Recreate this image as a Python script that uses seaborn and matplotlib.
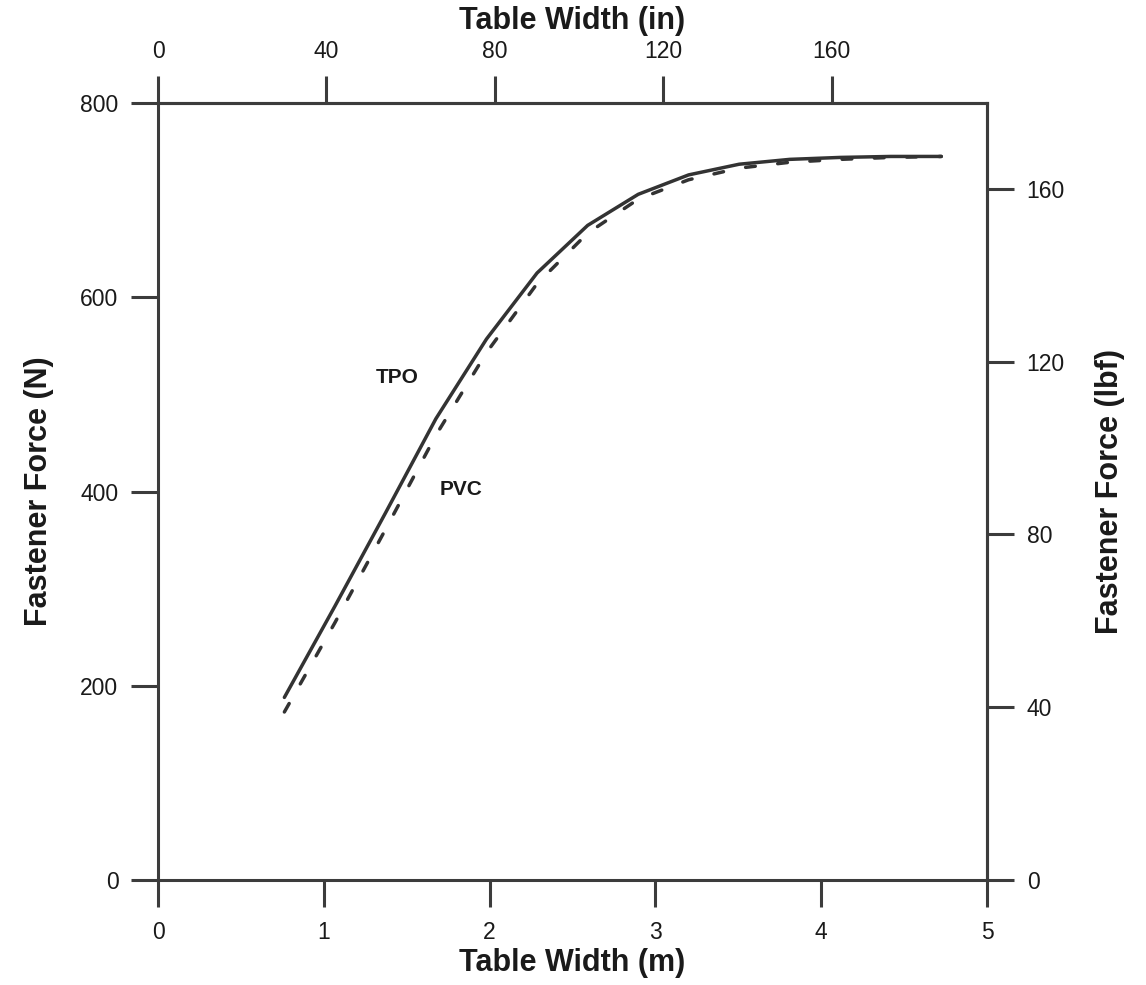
import numpy as np
import pandas as pd
import matplotlib
matplotlib.use("Agg")
import matplotlib.pyplot as plt
import seaborn as sns

# Table width (m) at each computed point
width_m = [0.762, 1.067, 1.372, 1.676, 1.981, 2.286, 2.591, 2.896, 3.200,
           3.505, 3.810, 4.115, 4.420, 4.724]
# Fastener force (N) for each membrane
force_tpo = [188, 282, 378, 475, 557, 625, 674, 706, 726, 737, 742, 744, 745, 745]
force_pvc = [173, 265, 361, 458, 543, 614, 666, 701, 721, 733, 739, 742, 744, 745]

materials = ["TPO", "PVC"]
x_ticks_m = [0, 1, 2, 3, 4, 5]
y_ticks_n = [0, 200, 400, 600, 800]
x_ticks_in = [0, 40, 80, 120, 160]
y_ticks_lbf = [0, 40, 80, 120, 160]

M_PER_IN = 0.0254
N_PER_LBF = 4.448222

df = pd.DataFrame({
    "width": width_m * 2,
    "force": force_tpo + force_pvc,
    "material": ["TPO"] * len(width_m) + ["PVC"] * len(width_m),
})

sns.set_theme(style="ticks")
plt.rcParams["font.family"] = ["Liberation Sans", "DejaVu Sans"]

ink = "#333333"
spine_col = "#3c3c3c"
text_col = "#1a1a1a"
tick_len = 19.5
tick_w = 2.2
tick_fs = 16.5
label_fs = 22

fig = plt.figure(figsize=(11.46, 9.85), dpi=100)
ax = fig.add_axes([0.1379, 0.1066, 0.8613 - 0.1379, 0.8954 - 0.1066])

sns.lineplot(data=df, x="width", y="force", style="material",
             style_order=materials, dashes={"TPO": "", "PVC": (2.8, 6.5)},
             color=ink, linewidth=2.5, legend=False, ax=ax,
             dash_capstyle="round", solid_capstyle="round",
             solid_joinstyle="round")

ax.set_xlim(0, 5)
ax.set_ylim(0, 800)
ax.set_xticks(x_ticks_m)
ax.set_yticks(y_ticks_n)
ax.set_xticklabels([str(v) for v in x_ticks_m])
ax.set_yticklabels([str(v) for v in y_ticks_n])

for s in ax.spines.values():
    s.set_visible(True)
    s.set_linewidth(tick_w)
    s.set_color(spine_col)

ax.tick_params(axis="x", direction="out", length=tick_len, width=tick_w,
               color=spine_col, labelsize=tick_fs, pad=10, labelcolor=text_col)
ax.tick_params(axis="y", direction="out", length=tick_len, width=tick_w,
               color=spine_col, labelsize=tick_fs, pad=9, labelcolor=text_col)

ax.set_xlabel("Table Width (m)", fontsize=label_fs, fontweight="bold",
              labelpad=3, color=text_col)
ax.set_ylabel("Fastener Force (N)", fontsize=label_fs, fontweight="bold",
              labelpad=19, color=text_col)

# Inch scale along the top
top = ax.secondary_xaxis("top", functions=(lambda m: m / M_PER_IN,
                                           lambda i: i * M_PER_IN))
top.set_xticks(x_ticks_in)
top.set_xticklabels([str(v) for v in x_ticks_in])
top.tick_params(direction="out", length=tick_len, width=tick_w,
                color=spine_col, labelsize=tick_fs, pad=9, labelcolor=text_col)
top.spines["top"].set_linewidth(tick_w)
top.spines["top"].set_color(spine_col)
top.set_xlabel("Table Width (in)", fontsize=label_fs, fontweight="bold",
               labelpad=8, color=text_col)

# Pound-force scale on the right
right = ax.secondary_yaxis("right", functions=(lambda n: n / N_PER_LBF,
                                               lambda l: l * N_PER_LBF))
right.set_yticks(y_ticks_lbf)
right.set_yticklabels([str(v) for v in y_ticks_lbf])
right.tick_params(direction="out", length=tick_len, width=tick_w,
                  color=spine_col, labelsize=tick_fs, pad=9, labelcolor=text_col)
right.spines["right"].set_linewidth(tick_w)
right.spines["right"].set_color(spine_col)
right.set_ylabel("Fastener Force (lbf)", fontsize=label_fs, fontweight="bold",
                 labelpad=22, color=text_col)

ax.text(1.44, 517, "TPO", fontsize=15, fontweight="bold", color=text_col,
        ha="center", va="center")
ax.text(1.83, 402, "PVC", fontsize=15, fontweight="bold", color=text_col,
        ha="center", va="center")

fig.savefig("out.png", dpi=100, facecolor="white")
